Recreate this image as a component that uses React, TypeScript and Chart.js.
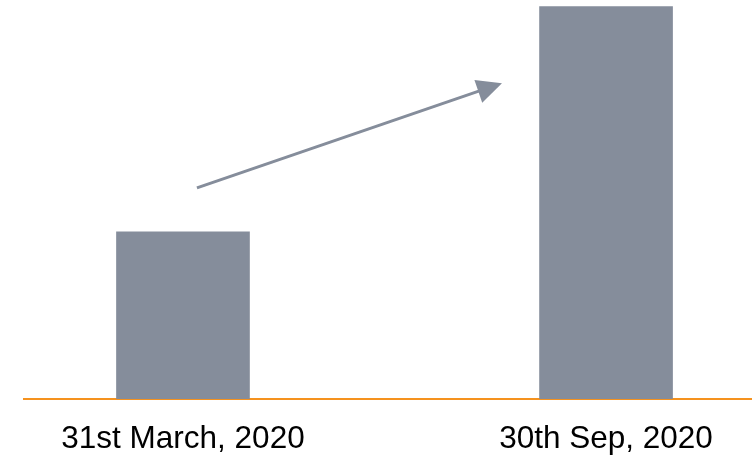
import React, { useEffect, useRef } from "react";
import { Chart, registerables } from "chart.js";

Chart.register(...registerables);

const categories = ["31st March, 2020", "30th Sep, 2020"];
const categoryPositions = [0, 1];
const values = [42.6, 100];
const arrowFrom = [0.033, 53.8];
const arrowTo = [0.754, 80.5];

const BAR_COLOR = "#858d9b";
const AXIS_COLOR = "#f5921e";

const arrowPlugin = {
  id: "arrowPlugin",
  afterDatasetsDraw(chart: any) {
    const { ctx, scales } = chart;
    const x1 = scales.x.getPixelForValue(arrowFrom[0]);
    const y1 = scales.y.getPixelForValue(arrowFrom[1]);
    const x2 = scales.x.getPixelForValue(arrowTo[0]);
    const y2 = scales.y.getPixelForValue(arrowTo[1]);
    const ang = Math.atan2(y2 - y1, x2 - x1);
    const headLen = 25;
    const headHalf = 12;
    const bx = x2 - headLen * Math.cos(ang);
    const by = y2 - headLen * Math.sin(ang);
    ctx.save();
    ctx.strokeStyle = BAR_COLOR;
    ctx.fillStyle = BAR_COLOR;
    ctx.lineWidth = 3;
    ctx.beginPath();
    ctx.moveTo(x1, y1);
    ctx.lineTo(bx + 2 * Math.cos(ang), by + 2 * Math.sin(ang));
    ctx.stroke();
    ctx.beginPath();
    ctx.moveTo(x2, y2);
    ctx.lineTo(bx + headHalf * Math.sin(ang), by - headHalf * Math.cos(ang));
    ctx.lineTo(bx - headHalf * Math.sin(ang), by + headHalf * Math.cos(ang));
    ctx.closePath();
    ctx.fill();
    ctx.restore();
  },
};

export default function App() {
  const ref = useRef<HTMLCanvasElement>(null);
  useEffect(() => {
    if (!ref.current) return;
    const chart = new Chart(ref.current, {
      type: "bar",
      data: {
        datasets: [
          {
            data: categoryPositions.map((x, i) => ({ x, y: values[i] })),
            backgroundColor: BAR_COLOR,
            borderWidth: 0,
            barThickness: 133,
          },
        ],
      },
      options: {
        animation: false,
        responsive: false,
        layout: { padding: { left: 24, right: 0, top: 0, bottom: 0 } },
        plugins: { legend: { display: false }, tooltip: { enabled: false } },
        scales: {
          x: {
            type: "linear",
            min: -0.3758,
            max: 1.345,
            offset: false,
            grace: 0,
            bounds: "ticks",
            z: 1,
            grid: { display: false, drawTicks: false, offset: false },
            border: { display: true, color: AXIS_COLOR, width: 2 },
            afterDataLimits: (scale: any) => {
              scale.min = -0.3758;
              scale.max = 1.345;
            },
            afterBuildTicks: (scale: any) => {
              scale.ticks = categoryPositions.map((v) => ({ value: v }));
            },
            afterFit: (scale: any) => {
              scale.height = 58;
            },
            ticks: {
              autoSkip: false,
              maxRotation: 0,
              padding: 21,
              color: "#000",
              font: { family: "Liberation Sans, Arial", size: 31.5 },
              callback: (v: any) => {
                const i = categoryPositions.indexOf(Number(v));
                return i >= 0 ? categories[i] : "";
              },
            },
          },
          y: {
            display: false,
            min: 0,
            max: 101.7,
          },
        },
      },
      plugins: [arrowPlugin],
    } as any);
    return () => chart.destroy();
  }, []);
  return (
    <div style={{ position: "fixed", left: 0, top: 0, width: 752, height: 457 }}>
      <canvas ref={ref} width={752} height={457} style={{ display: "block" }} />
    </div>
  );
}
